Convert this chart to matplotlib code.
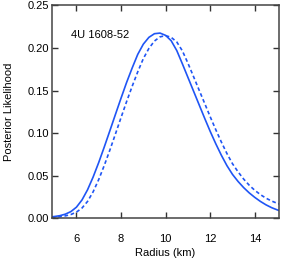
import numpy as np
import matplotlib
matplotlib.use("Agg")
import matplotlib.pyplot as plt

# radius grid (km) and posterior likelihood
radius = [4.9, 5.0, 5.25, 5.5, 5.75, 6.0, 6.25, 6.5, 6.75, 7.0, 7.25, 7.5, 7.75,
          8.0, 8.25, 8.5, 8.75, 9.0, 9.25, 9.5, 9.75, 10.0, 10.25, 10.5, 10.75,
          11.0, 11.25, 11.5, 11.75, 12.0, 12.25, 12.5, 12.75, 13.0, 13.25,
          13.5, 13.75, 14.0, 14.25, 14.5, 14.75, 15.0, 15.1]

like_solid = [0.0017, 0.0020, 0.0030, 0.0048, 0.0078, 0.0130, 0.0215, 0.0335,
              0.0485, 0.0655, 0.0838, 0.1028, 0.1220, 0.1410, 0.1595, 0.1765,
              0.1925, 0.2045, 0.2125, 0.2168, 0.2175, 0.2148, 0.2085, 0.1970,
              0.1815, 0.1655, 0.1495, 0.1335, 0.1175, 0.1020, 0.0875, 0.0740,
              0.0618, 0.0515, 0.0432, 0.0360, 0.0298, 0.0245, 0.0198, 0.0158,
              0.0125, 0.0099, 0.0090]

like_dashed = [0.0011, 0.0013, 0.0018, 0.0028, 0.0044, 0.0072, 0.0120, 0.0198,
               0.0311, 0.0455, 0.0621, 0.0801, 0.0990, 0.1182, 0.1370, 0.1550,
               0.1720, 0.1875, 0.1995, 0.2082, 0.2131, 0.2145, 0.2125, 0.2071,
               0.1967, 0.1822, 0.1665, 0.1507, 0.1350, 0.1192, 0.1040, 0.0895,
               0.0760, 0.0640, 0.0545, 0.0460, 0.0388, 0.0328, 0.0278, 0.0236,
               0.0203, 0.0176, 0.0168]

source_label = "4U 1608-52"

plt.rcParams['font.family'] = ['Liberation Sans', 'DejaVu Sans']
fig = plt.figure(figsize=(2.82, 2.58), dpi=100)
ax = fig.add_axes([0.184, 0.154, 0.805, 0.825])

blue = "#1f55f5"
ax.plot(radius, like_solid, color=blue, lw=1.2)
ax.plot(radius, like_dashed, color=blue, lw=1.2, linestyle=(0, (2.2, 1.6)))

ax.set_xlim(4.9, 15.08)
ax.set_ylim(0, 0.25)
ax.set_xticks([6, 8, 10, 12, 14])
ax.set_yticks([0.0, 0.05, 0.10, 0.15, 0.20, 0.25])
ax.set_yticklabels(["0.00", "0.05", "0.10", "0.15", "0.20", "0.25"])
ax.tick_params(direction="in", length=4, width=1, top=True, right=True,
               labelsize=8, pad=2, color="#333333")
ax.tick_params(axis="x", pad=11)
for s in ax.spines.values():
    s.set_linewidth(1.1)
    s.set_color("#444444")

ax.set_xlabel("Radius (km)", fontsize=8, labelpad=3)
ax.set_ylabel("Posterior Likelihood", fontsize=8, labelpad=10)
ax.text(0.085, 0.845, source_label, transform=ax.transAxes, fontsize=8)

fig.savefig("out.png", dpi=100)
